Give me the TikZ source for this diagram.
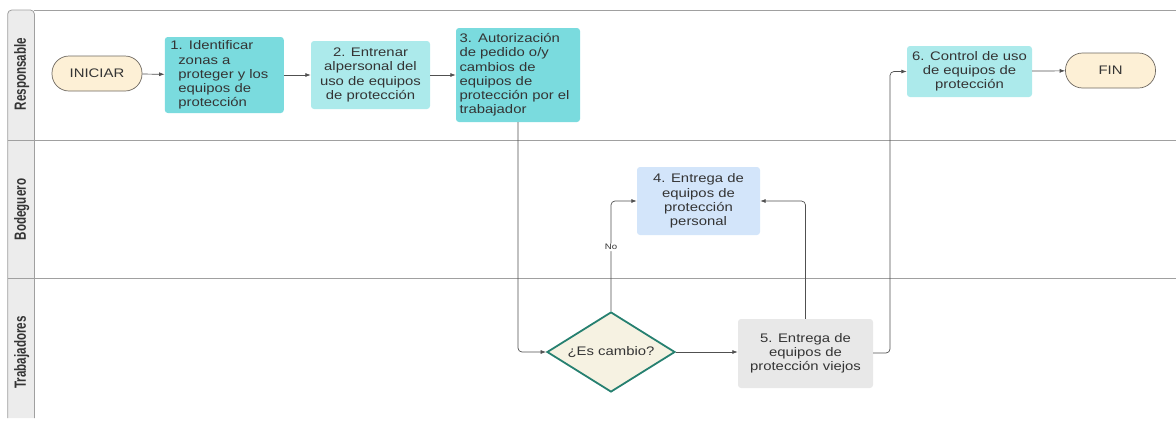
\documentclass[tikz,border=0pt]{standalone}
\usepackage{fontspec}
\setmainfont{Liberation Sans}[FakeStretch=1.2]
\newfontfamily\lanefont{Liberation Sans}
\usepackage{graphicx}
\usetikzlibrary{arrows.meta, shapes.geometric, calc}
\usepackage{xcolor}
\definecolor{tealbox}{RGB}{122, 219, 222}
\definecolor{lightbox}{RGB}{172, 234, 235}
\definecolor{bluebox}{RGB}{211, 229, 250}
\definecolor{graybox}{RGB}{232, 232, 232}
\definecolor{termfill}{RGB}{253, 240, 214}
\definecolor{termline}{RGB}{110, 104, 96}
\definecolor{decfill}{RGB}{246, 242, 226}
\definecolor{decline}{RGB}{38, 128, 112}
\definecolor{lanefill}{RGB}{236, 236, 236}
\definecolor{laneline}{RGB}{160, 160, 160}
\definecolor{inkgray}{RGB}{52, 52, 52}
\definecolor{flowgray}{RGB}{80, 80, 80}
\newcommand{\lanetext}[1]{\scalebox{0.86}[1.2]{\lanefont\fontsize{13.5}{14}\selectfont\bfseries #1}}

\begin{document}
\begin{tikzpicture}[x=1pt, y=-1pt, >={Latex[length=5.5pt, width=4pt]},
    font=\fontsize{12.4}{14.2}\selectfont,
    box/.style={rectangle, rounded corners=3pt, inner sep=0pt, text=inkgray, align=center},
    terminal/.style={rectangle, rounded corners=17pt, draw=termline, fill=termfill, line width=0.7pt,
      minimum width=90pt, minimum height=35pt, inner sep=0pt, text=inkgray},
    decision/.style={diamond, aspect=1.6, draw=decline, fill=decfill, line width=1.8pt,
      minimum width=128pt, minimum height=80pt, inner sep=0pt, text=inkgray},
    flow/.style={->, draw=flowgray, line width=0.7pt, rounded corners=4pt},
    lane/.style={draw=laneline, line width=0.8pt},
    lanelabel/.style={rotate=90, text=inkgray, inner sep=0pt}]

  \useasboundingbox (0,0) rectangle (1176,421);

  % ---------- Lanes ----------
  \draw[lane, fill=lanefill] (7.7,418) [rounded corners=4pt] -- (7.7,10) -- (34.4,10) [sharp corners] -- (34.4,418);
  \draw[lane] (34.4,10) -- (1176,10);
  \draw[lane] (7.7,140.7) -- (1176,140.7);
  \draw[lane] (7.7,278) -- (1176,278);
  \node[lanelabel] (lresp) at (21.6,74) {\lanetext{Responsable}};
  \node[lanelabel] (lbode) at (21.6,209.5) {\lanetext{Bodeguero}};
  \node[lanelabel] (ltrab) at (21.6,352.5) {\lanetext{Trabajadores}};

  % ---------- Responsable ----------
  \node[terminal] (ini) at (97,73.5) {INICIAR};
  \node[box, fill=tealbox, minimum width=119pt, minimum height=76pt, text width=108pt, align=left] (b1) at (224.3,75)
    {1. Identificar\\\hspace*{8pt}zonas a\\\hspace*{8pt}proteger y los\\\hspace*{8pt}equipos de\\\hspace*{8pt}protección};
  \node[box, fill=lightbox, minimum width=119pt, minimum height=68pt] (b2) at (370.5,75)
    {2. Entrenar\\alpersonal del\\uso de equipos\\de protección};
  \node[box, fill=tealbox, minimum width=124pt, minimum height=94pt, text width=117pt, align=left] (b3) at (518,75)
    {3. Autorización\\de pedido o/y\\cambios de\\equipos de\\protección por el\\trabajador};
  \node[box, fill=lightbox, minimum width=125pt, minimum height=51pt] (b6) at (969.5,71.5)
    {6. Control de uso\\de equipos de\\protección};
  \node[terminal] (fin) at (1110.5,70.5) {FIN};

  % ---------- Bodeguero ----------
  \node[box, fill=bluebox, minimum width=123pt, minimum height=68pt] (b4) at (698.5,201)
    {4. Entrega de\\equipos de\\protección\\personal};

  % ---------- Trabajadores ----------
  \node[decision] (dec) at (611,352) {¿Es cambio?};
  \node[box, fill=graybox, minimum width=135pt, minimum height=69pt] (b5) at (805.5,353.5)
    {5. Entrega de\\equipos de\\protección viejos};
  \coordinate (turn5) at (890,353);

  % ---------- Connectors ----------
  \draw[flow] (ini) -- (b1);
  \draw[flow] (b1) -- (b2);
  \draw[flow] (b2) -- (b3);
  \draw[flow] (b3.south) |- (dec.west);
  \draw[flow] (dec.north) |- (b4.west)
    node[pos=0.29, fill=white, inner sep=1pt, font=\fontsize{8}{8}\selectfont, text=inkgray] {No};
  \draw[flow] (dec.east) -- (b5.west |- dec.east);
  \draw[flow] (b5.north) |- (b4.east);
  \draw[flow] (b5.east |- turn5) -- (turn5) |- (b6.west);
  \draw[flow] (b6) -- (fin);

\end{tikzpicture}
\end{document}
